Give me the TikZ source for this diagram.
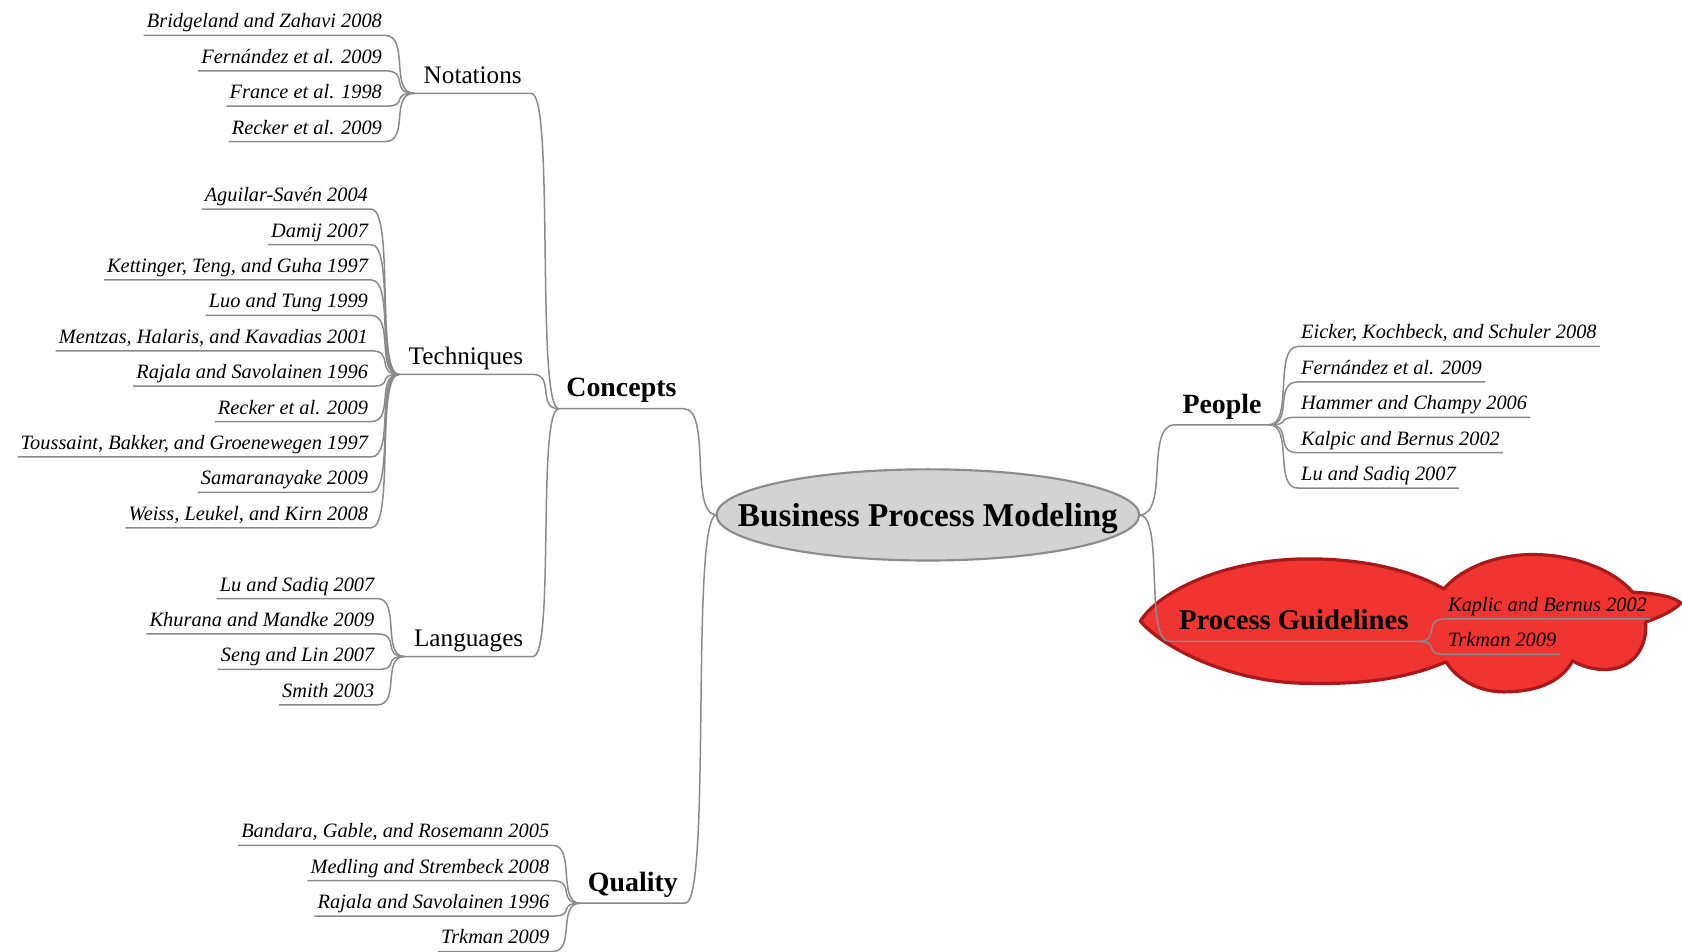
\documentclass[tikz,border=0pt]{standalone}
\usepackage{fontspec}
\setmainfont{Liberation Serif}
\usetikzlibrary{calc,shapes.geometric}
\definecolor{linegray}{RGB}{138,138,138}
\definecolor{rootfill}{RGB}{211,211,211}
\definecolor{rootedge}{RGB}{140,140,140}
\definecolor{cloudfill}{RGB}{240,52,50}
\definecolor{cloudedge}{RGB}{170,25,25}
\begin{document}
\begin{tikzpicture}[x=1pt,y=-1pt,
  conn/.style={draw=linegray,line width=1.4pt},
  elbow/.style={to path={let \p1=(\tikztostart),\p2=(\tikztotarget),\n1={0.85*(\x2-\x1)} in
      .. controls (\x1+\n1,\y1) and (\x2-\n1,\y2) .. (\tikztotarget)}},
  leafL/.style={anchor=south east,inner xsep=3pt,inner ysep=2pt,outer sep=0pt,
      text height=13pt,text depth=5pt,font=\itshape\fontsize{19}{22}\selectfont},
  leafR/.style={leafL,anchor=south west},
  sub/.style={anchor=south west,inner xsep=9pt,inner ysep=3pt,outer sep=0pt,
      text height=16pt,text depth=6pt,font=\fontsize{23.5}{28}\selectfont},
  branchL/.style={anchor=south west,inner xsep=7pt,inner ysep=4pt,outer sep=0pt,
      text height=18pt,text depth=7pt,font=\bfseries\fontsize{26}{31}\selectfont},
  branchR/.style={branchL,anchor=south east},
  rootnode/.style={ellipse,fill=rootfill,draw=rootedge,line width=2pt,
      minimum width=394pt,minimum height=85pt,inner sep=0pt,outer sep=0pt,
      font=\bfseries\fontsize{31}{36}\selectfont}
]
\useasboundingbox (0,0) rectangle (1568,887);

% red cloud behind the Process Guidelines branch
\filldraw[fill=cloudfill,draw=cloudedge,line width=3pt,line join=round]
  (1063,579)
  .. controls (1080,552) and (1140,521) .. (1220,521)
  .. controls (1280,521) and (1322,535) .. (1346,549)
  .. controls (1365,527) and (1400,516) .. (1433,517)
  .. controls (1470,518) and (1505,532) .. (1522,552)
  .. controls (1540,553) and (1558,555) .. (1567,562)
  .. controls (1560,570) and (1545,576) .. (1534,580)
  .. controls (1536,600) and (1525,622) .. (1500,624)
  .. controls (1487,625) and (1474,621) .. (1466,616)
  .. controls (1455,637) and (1430,645) .. (1402,645)
  .. controls (1378,645) and (1358,633) .. (1348,617)
  .. controls (1310,633) and (1270,638) .. (1220,637)
  .. controls (1150,637) and (1085,605) .. (1063,579) -- cycle;

% central topic (empty text box so the ellipse keeps its set size)
\node[rootnode] (root) at (865,480)
  {\makebox[0pt]{\raisebox{-11pt}[0pt][0pt]{Business Process Modeling}}};

% main branches
\node[branchL] (concepts) at (521,381) {Concepts};
\node[branchL] (quality) at (541,842) {Quality};
\node[branchR] (people) at (1183,396) {People};
\node[branchR,inner xsep=9pt,font=\bfseries\fontsize{26.7}{31}\selectfont] (guide) at (1322,598) {Process Guidelines};

% sub-branches of Concepts
\node[sub] (notations) at (386,87) {Notations};
\node[sub] (techniques) at (372,349) {Techniques};
\node[sub] (languages) at (377,612) {Languages};

% references: Notations
\node[leafL] (n1) at (359,33) {Bridgeland and Zahavi 2008};
\node[leafL] (n2) at (359,66) {Fernández et al. 2009};
\node[leafL] (n3) at (359,99) {France et al. 1998};
\node[leafL] (n4) at (359,132) {Recker et al. 2009};

% references: Techniques
\node[leafL] (t1) at (346,195) {Aguilar-Savén 2004};
\node[leafL] (t2) at (346,228) {Damij 2007};
\node[leafL] (t3) at (346,261) {Kettinger, Teng, and Guha 1997};
\node[leafL] (t4) at (346,294) {Luo and Tung 1999};
\node[leafL] (t5) at (346,327) {Mentzas, Halaris, and Kavadias 2001};
\node[leafL] (t6) at (346,360) {Rajala and Savolainen 1996};
\node[leafL] (t7) at (346,393) {Recker et al. 2009};
\node[leafL] (t8) at (346,426) {Toussaint, Bakker, and Groenewegen 1997};
\node[leafL] (t9) at (346,459) {Samaranayake 2009};
\node[leafL] (t10) at (346,492) {Weiss, Leukel, and Kirn 2008};

% references: Languages
\node[leafL] (l1) at (352,558) {Lu and Sadiq 2007};
\node[leafL] (l2) at (352,591) {Khurana and Mandke 2009};
\node[leafL] (l3) at (352,624) {Seng and Lin 2007};
\node[leafL] (l4) at (352,657) {Smith 2003};

% references: Quality
\node[leafL] (q1) at (515,788) {Bandara, Gable, and Rosemann 2005};
\node[leafL] (q2) at (515,821) {Medling and Strembeck 2008};
\node[leafL] (q3) at (515,854) {Rajala and Savolainen 1996};
\node[leafL] (q4) at (515,887) {Trkman 2009};

% references: People
\node[leafR] (p1) at (1210,323) {Eicker, Kochbeck, and Schuler 2008};
\node[leafR] (p2) at (1210,356) {Fernández et al. 2009};
\node[leafR] (p3) at (1210,389) {Hammer and Champy 2006};
\node[leafR] (p4) at (1210,422) {Kalpic and Bernus 2002};
\node[leafR] (p5) at (1210,455) {Lu and Sadiq 2007};

% references: Process Guidelines
\node[leafR] (g1) at (1347,577) {Kaplic and Bernus 2002};
\node[leafR] (g2) at (1347,610) {Trkman 2009};

% left-hand leaves: underline, then curve into the parent
\foreach \leaf/\parent in {n1/notations,n2/notations,n3/notations,n4/notations,
    t1/techniques,t2/techniques,t3/techniques,t4/techniques,t5/techniques,
    t6/techniques,t7/techniques,t8/techniques,t9/techniques,t10/techniques,
    l1/languages,l2/languages,l3/languages,l4/languages,
    q1/quality,q2/quality,q3/quality,q4/quality}
  \draw[conn] (\leaf.south west) -- (\leaf.south east) to[elbow] (\parent.south west);

% sub-branches into Concepts
\foreach \child in {notations,techniques,languages}
  \draw[conn] (\child.south west) -- (\child.south east) to[elbow] (concepts.south west);

% main branches into the central topic
\draw[conn] (concepts.south west) -- (concepts.south east) to[elbow] (root.west);
\draw[conn] (quality.south west) -- (quality.south east) to[elbow] (root.west);
\draw[conn] (root.east) to[elbow] (people.south west) -- (people.south east);
\draw[conn] (root.east) to[elbow] (guide.south west) -- (guide.south east);

% right-hand leaves
\foreach \leaf in {p1,p2,p3,p4,p5}
  \draw[conn] (people.south east) to[elbow] (\leaf.south west) -- (\leaf.south east);
\foreach \leaf in {g1,g2}
  \draw[conn] (guide.south east) to[elbow] (\leaf.south west) -- (\leaf.south east);
\end{tikzpicture}
\end{document}
